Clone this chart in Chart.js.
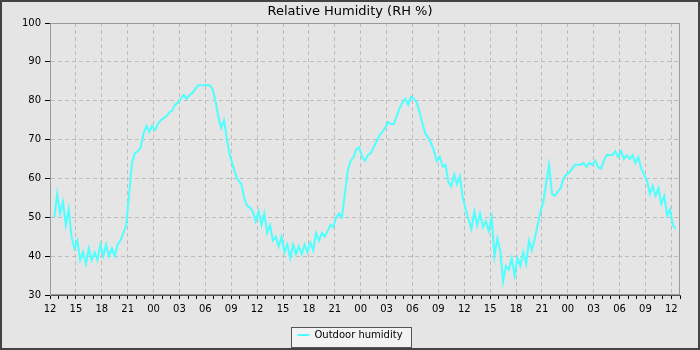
<!DOCTYPE html>
<html><head><meta charset="utf-8">
<script src="https://cdn.jsdelivr.net/npm/chart.js@4.4.0/dist/chart.umd.min.js"></script>
<style>html,body{margin:0;padding:0;background:#e5e5e5;}canvas{display:block;}</style>
</head><body>
<canvas id="c" width="700" height="350"></canvas>
<script>
const chartTitle = 'Relative Humidity (RH %)';
const seriesName = 'Outdoor humidity';
// x tick labels, one every 3 hours starting at 12:00
const xTickLabels = ['12','15','18','21','00','03','06','09','12','15','18','21','00','03','06','09','12','15','18','21','00','03','06','09','12'];
const yMin = 30, yMax = 100, yStep = 10;
const xMin = 0, xMax = 73;

// hours since the first 12:00
const hours = [
  0.5,0.83,
  1.17,1.5,1.83, 2.17,2.5,2.83, 3.17,3.5,3.83, 4.17,4.5,4.83, 5.17,5.5,5.83, 6.17,6.5,6.83,
  7.17,7.5,7.83, 8.17,8.5,8.83, 9.17,9.5,9.83, 10.17,10.5,10.83, 11.17,11.5,11.83, 12.17,12.5,12.83,
  13.17,13.5,13.83, 14.17,14.5,14.83, 15.17,15.5,15.83, 16.17,16.5,16.83, 17.17,17.5,17.83, 18.17,18.5,18.83,
  19.17,19.5,19.83, 20.17,20.5,20.83, 21.17,21.5,21.83, 22.17,22.5,22.83, 23.17,23.5,23.83, 24.17,24.5,24.83,
  25.17,25.5,25.83, 26.17,26.5,26.83, 27.17,27.5,27.83, 28.17,28.5,28.83, 29.17,29.5,29.83, 30.17,30.5,30.83,
  31.17,31.5,31.83, 32.17,32.5,32.83, 33.17,33.5,33.83, 34.17,34.5,34.83, 35.17,35.5,35.83, 36.17,36.5,36.83,
  37.17,37.5,37.83, 38.17,38.5,38.83, 39.17,39.5,39.83, 40.17,40.5,40.83, 41.17,41.5,41.83, 42.17,42.5,42.83,
  43.17,43.5,43.83, 44.17,44.5,44.83, 45.17,45.5,45.83, 46.17,46.5,46.83, 47.17,47.5,47.83, 48.17,48.5,48.83,
  49.17,49.5,49.83, 50.17,50.5,50.83, 51.17,51.5,51.83, 52.17,52.5,52.83, 53.17,53.5,53.83, 54.17,54.5,54.83,
  55.17,55.5,55.83, 56.17,56.5,56.83, 57.17,57.5,57.83, 58.17,58.5,58.83, 59.17,59.5,59.83, 60.17,60.5,60.83,
  61.17,61.5,61.83, 62.17,62.5,62.83, 63.17,63.5,63.83, 64.17,64.5,64.83, 65.17,65.5,65.83, 66.17,66.5,66.83,
  67.17,67.5,67.83, 68.17,68.5,68.83, 69.17,69.5,69.83, 70.17,70.5,70.83, 71.17,71.5,71.83, 72.17,72.5
];
const humidity = [
  50,56,
  51,54,48, 52,45,42, 44,39,41, 38,42,39, 41,39,43, 40,43,40,
  42,40,43, 44,46,48, 56,64,66.5, 67,68,71.5, 73.5,72,73.5, 72.5,74,75,
  75.5,76,77, 77.5,79,79.5, 80.5,81.5,80.5, 81.5,82,83, 84,84,84, 84,84,83,
  80,76,73, 75,70,66, 63.5,61,59.5, 58.5,55,53, 52.5,51.5,49, 51.5,48,51,
  46,48,44, 45,42.5,45, 41,43,39.5, 43,40.5,42.5, 40.5,43,41, 43.5,41.5,46,
  44,46,45, 46.5,48,47.5, 50,51,50, 56,62,64.5, 65.5,67.5,68, 65.5,64.5,66,
  66.5,68,69.5, 71,72,73, 74.5,74,74, 76,78,79.5, 80.5,79,81, 80.5,79.5,77,
  74,71.5,70.5, 69,67,64.5, 65.5,63,63.5, 59,58,61, 58.5,60.5,55, 52,49.5,47,
  51.5,48,51, 47.5,49,46.5, 50,40,44.5, 41.5,33.5,37.5, 36.5,39.5,35, 39.5,37.5,41,
  38,44,41.5, 44.5,48,51.5, 54,59,63.5, 56,55.5,56.5, 57.5,60,61, 61.5,62.5,63.5,
  63.5,63.5,64, 63,64,63.5, 64.5,63,62.5, 64.5,66,66, 66,67,65.5, 67,65,66,
  65,66,64, 65.5,62.5,61, 59.5,56,58, 55.5,57.5,53.5, 55.5,50.5,52, 48,47
];

const FONT = 'DejaVu Sans';
const points = hours.map((h, i) => ({x: h, y: humidity[i]}));

const framePlugin = {
  id: 'frame',
  beforeDraw(chart) {
    const ctx = chart.ctx;
    ctx.save();
    ctx.fillStyle = '#e5e5e5';
    ctx.fillRect(0, 0, chart.width, chart.height);
    ctx.strokeStyle = '#444';
    ctx.lineWidth = 2;
    ctx.strokeRect(1, 1, chart.width - 2, chart.height - 2);
    const lg = chart.legend;
    if (lg && lg.legendHitBoxes && lg.legendHitBoxes.length) {
      const hb = lg.legendHitBoxes[0];
      const l = Math.round(hb.left - 6) + 0.5, t = Math.round(hb.top - 3) + 0.5;
      const w = Math.round(hb.width + 15), h = 20;
      ctx.fillStyle = '#f2f2f2';
      ctx.fillRect(l, t, w, h);
      ctx.strokeStyle = '#555';
      ctx.lineWidth = 1;
      ctx.strokeRect(l, t, w, h);
    }
    ctx.restore();
  },
  beforeDatasetsDraw(chart) {
    const a = chart.chartArea, ctx = chart.ctx;
    ctx.save();
    ctx.strokeStyle = '#9a9a9a';
    ctx.lineWidth = 1;
    ctx.strokeRect(Math.round(a.left) + 0.5, Math.round(a.top) + 0.5, Math.round(a.right - a.left) - 1, Math.round(a.bottom - a.top) - 1);
    ctx.restore();
  }
};

new Chart(document.getElementById('c'), {
  type: 'line',
  data: {
    datasets: [{
      label: seriesName,
      data: points,
      borderColor: '#4dffff',
      backgroundColor: '#4dffff',
      borderWidth: 2,
      pointRadius: 0,
      tension: 0,
      fill: false
    }]
  },
  options: {
    responsive: false,
    animation: false,
    devicePixelRatio: 1,
    events: [],
    layout: {padding: {left: 20, right: 20, top: 0, bottom: 0}},
    plugins: {
      tooltip: {enabled: false},
      title: {
        display: true, text: chartTitle, color: '#000',
        font: {family: FONT, size: 13, weight: 'normal'},
        padding: {top: 4, bottom: 3.4}
      },
      legend: {
        display: true, position: 'bottom',
        labels: {
          color: '#000', font: {family: FONT, size: 10},
          usePointStyle: true, pointStyle: 'line', pointStyleWidth: 12,
          boxHeight: 10, padding: 5
        }
      }
    },
    scales: {
      x: {
        type: 'linear', min: xMin, max: xMax,
        afterFit(scale) { scale.height = 30; },
        ticks: {
          stepSize: 1, autoSkip: false, maxRotation: 0, minRotation: 0,
          color: '#000', font: {family: FONT, size: 10}, padding: 4,
          callback: (v) => (v % 3 === 0 && xTickLabels[v / 3] !== undefined) ? xTickLabels[v / 3] : ''
        },
        grid: {
          color: (c) => (c.tick && c.tick.value % 3 === 0) ? '#bdbdbd' : 'rgba(0,0,0,0)',
          tickColor: '#000', tickLength: 4, lineWidth: 1
        },
        border: {color: '#555', dash: [4, 3]}
      },
      y: {
        min: yMin, max: yMax,
        afterFit(scale) { scale.width = 30; },
        ticks: {stepSize: yStep, color: '#000', font: {family: FONT, size: 10}, padding: 4},
        grid: {color: '#bdbdbd', tickColor: '#000', tickLength: 5, lineWidth: 1},
        border: {color: '#9a9a9a', dash: [4, 3]}
      }
    }
  },
  plugins: [framePlugin]
});
</script>
</body></html>
